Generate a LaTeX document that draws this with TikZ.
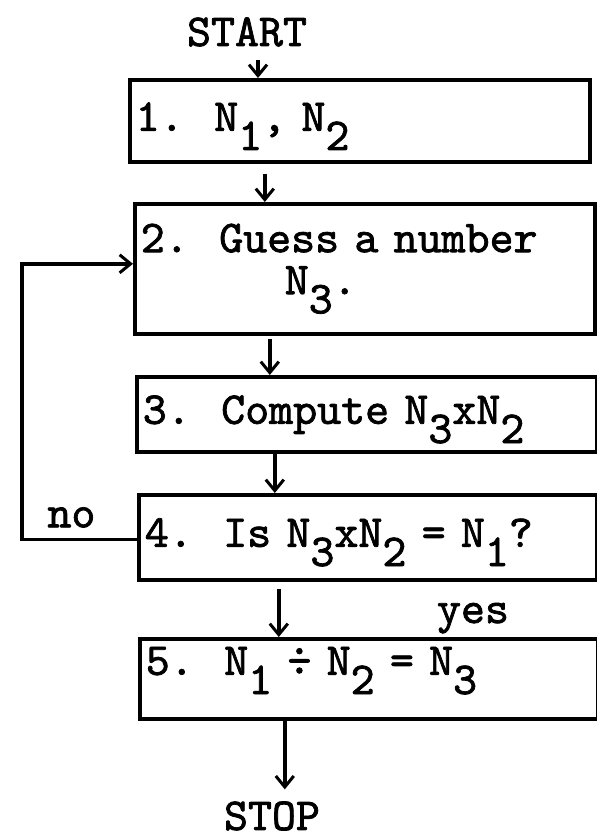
\documentclass[tikz,border=0pt]{standalone}
\usepackage{fontspec}
\newfontfamily\typefont{lmmono10-regular.otf}[FakeBold=1.6]
\usetikzlibrary{
    arrows.meta,  % For arrow tips
    positioning,  % For label positioning
    calc          % For coordinate calculations
}
% typed subscript: a full size digit set lower
\newcommand{\lowsub}[1]{\raisebox{-0.42em}{#1}}

\begin{document}
\begin{tikzpicture}[
    x=1pt, y=-1pt,
    >={Straight Barb[length=11pt, width=18pt, line width=3pt]}, % open arrow tips
    typed/.style={font={\typefont\fontsize{45.7}{42}\selectfont}, inner sep=0pt}, % typewriter text
    stepbox/.style={draw, line width=3.6pt, typed, anchor=north west,
        inner ysep=0pt, inner xsep=6pt, text width=448pt, align=left}, % one step of the chart
    flow/.style={->, line width=3.4pt} % arrows between steps
]
    \useasboundingbox (0,0) rectangle (597,839);

    % Start and stop
    \node[typed] (start) at (247,32) {START};
    \node[typed] (stop) at (272,816) {STOP};

    % The five steps
    \node[stepbox, text height=51pt, text depth=31pt] (box1) at (128,78)
        {1.\ \ N\lowsub{1}, N\lowsub{2}};
    \node[stepbox, minimum height=130pt] (box2) at (133,202)
        {2.\ \ Guess a number\\\phantom{000000}N\lowsub{3}.};
    \node[stepbox, text height=47pt, text depth=28pt] (box3) at (135,375)
        {3.\ \ Compute N\lowsub{3}xN\lowsub{2}};
    \node[stepbox, text height=52pt, text depth=33pt, text width=446pt] (box4) at (137,493)
        {4.\ \ Is N\lowsub{3}xN\lowsub{2} = N\lowsub{1}?};
    \node[stepbox, text height=36pt, text depth=44pt, text width=446pt] (box5) at (138,637)
        {5.\ \ N\lowsub{1} \char"00F7{} N\lowsub{2} = N\lowsub{3}};

    % Answer on the way down
    \node[typed, anchor=base] (yes) at (473,623) {yes};

    % Arrows down the chart
    \draw[flow, shorten <=13pt] ([xshift=11pt]start.south) -- ([xshift=11pt]start.south |- box1.north);
    \draw[flow, shorten <=10pt] ([xshift=-95pt]box1.south) -- ([xshift=-95pt]box1.south |- box2.north);
    \draw[flow, shorten <=3pt] ([xshift=-95pt]box2.south) -- ([xshift=-95pt]box2.south |- box3.north);
    \draw[flow] ([xshift=-92pt]box3.south) -- ([xshift=-92pt]box3.south |- box4.north);
    \draw[flow, shorten <=7pt] ([xshift=-89pt]box4.south) -- ([xshift=-89pt]box4.south |- box5.north);
    \draw[flow, shorten >=12pt] ([xshift=-84pt]box5.south) -- ([xshift=-84pt]box5.south |- stop.north);

    % Loop back when the test fails
    \coordinate (back) at (22,0);
    \draw[flow] ([yshift=-2pt]box4.west) -- node[typed, pos=0.57, above=10pt] {no}
        ([yshift=-2pt]box4.west -| back) -- ([yshift=5pt]box2.west -| back) -- ([yshift=5pt]box2.west);

\end{tikzpicture}
\end{document}
